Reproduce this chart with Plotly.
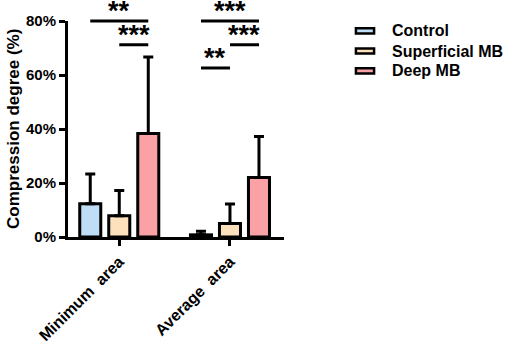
import plotly.graph_objects as go

categories = ["Minimum\u00a0\u00a0area", "Average\u00a0\u00a0area"]
series_names = ["Control", "Superficial MB", "Deep MB"]
means = {
    "Control": [12.3, 0.8],
    "Superficial MB": [7.9, 5.0],
    "Deep MB": [38.3, 22.0],
}
errors = {
    "Control": [11.0, 1.3],
    "Superficial MB": [9.3, 7.2],
    "Deep MB": [28.4, 15.2],
}
colors = {
    "Control": "#BFDDF5",
    "Superficial MB": "#FDE0BC",
    "Deep MB": "#F9A1A4",
}
# significance brackets: (category index, series from, series to, level %, label)
sig_group = [0, 0, 1, 1, 1]
sig_from = [0, 1, 0, 1, 0]
sig_to = [2, 2, 2, 2, 1]
sig_level = [80.0, 71.2, 80.0, 71.2, 62.6]
sig_label = ["**", "***", "***", "***", "**"]

YMAX = 80
BARGAP = 0.214
BARGROUPGAP = 0.275
FONT = "Liberation Sans, Arial, sans-serif"

fig = go.Figure()
for name in series_names:
    fig.add_trace(go.Bar(
        name=name, x=categories, y=means[name],
        marker=dict(color=colors[name], line=dict(color="black", width=3)),
        error_y=dict(type="data", array=errors[name], arrayminus=[0, 0],
                     color="black", thickness=3, width=5),
    ))

slot = (1 - BARGAP) / 3
for g, a, b, lvl, lab in zip(sig_group, sig_from, sig_to, sig_level, sig_label):
    x0 = g + (a - 1) * slot
    x1 = g + (b - 1) * slot
    fig.add_shape(type="line", xref="x", yref="paper", x0=x0, x1=x1,
                  y0=lvl / YMAX, y1=lvl / YMAX, line=dict(color="black", width=3))
    fig.add_annotation(x=(x0 + x1) / 2, y=lvl / YMAX, xref="x", yref="paper",
                       text=lab, showarrow=False, yanchor="middle", yshift=10,
                       font=dict(family=FONT, size=27, color="black", weight="bold"))

# manual legend
leg_y = [0.954, 0.861, 0.769]
for name, ly in zip(series_names, leg_y):
    fig.add_shape(type="rect", xref="paper", yref="paper",
                  x0=1.333, x1=1.417, y0=ly - 0.012, y1=ly + 0.012,
                  fillcolor=colors[name], line=dict(color="black", width=2.5))
    fig.add_annotation(xref="paper", yref="paper", x=1.49, y=ly, text=name,
                       showarrow=False, xanchor="left", yanchor="middle",
                       font=dict(family=FONT, size=16, color="black", weight="bold"))

fig.add_annotation(xref="paper", yref="paper", x=-0.255, y=0.5,
                   text="Compression degree (%)", textangle=-90, showarrow=False,
                   xanchor="center", yanchor="middle",
                   font=dict(family=FONT, size=17, color="black", weight="bold"))

fig.update_layout(
    width=505, height=342,
    margin=dict(l=68, r=221, t=21, b=105, autoexpand=False),
    paper_bgcolor="white", plot_bgcolor="white",
    barmode="group", bargap=BARGAP, bargroupgap=BARGROUPGAP,
    showlegend=False,
    font=dict(family=FONT, color="black"),
)
fig.update_xaxes(
    range=[-0.463, 1.488], showline=True, linecolor="black", linewidth=3,
    ticks="outside", ticklen=6, tickwidth=3, tickcolor="black",
    tickangle=-45, showgrid=False, zeroline=False, automargin=False,
    tickfont=dict(family=FONT, size=16, color="black", weight="bold"),
)
fig.update_yaxes(
    range=[0, YMAX], dtick=20, ticksuffix="%", showline=True, linecolor="black",
    linewidth=3, ticks="outside", ticklen=6, tickwidth=3, tickcolor="black",
    showgrid=False, zeroline=False, automargin=False,
    tickfont=dict(family=FONT, size=15, color="black", weight="bold"),
)

fig.write_html(
    "out.html",
    config={"displayModeBar": False},
    post_script="document.body.style.margin='0';document.body.style.padding='0';",
)
